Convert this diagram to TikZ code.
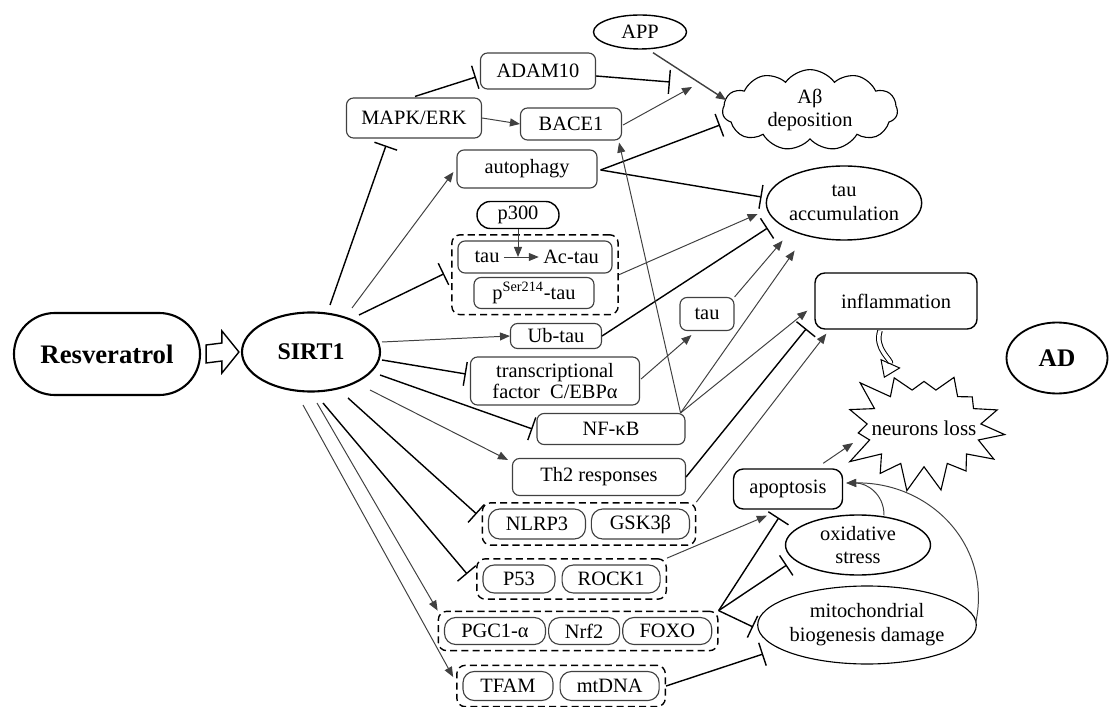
\documentclass[tikz,border=0pt]{standalone}
\usepackage{fontspec}
\setmainfont{Liberation Serif}
\usetikzlibrary{arrows.meta,calc,positioning,fit,shapes.geometric,shapes.symbols}

\begin{document}
\begin{tikzpicture}[x=0.025cm,y=-0.025cm,>={Triangle[length=0.25cm,width=0.2cm]},font=\fontsize{14.5}{17}\selectfont]
\tikzstyle{wd}=[minimum width=#1*0.025cm]
\tikzstyle{ht}=[minimum height=#1*0.025cm]
\tikzstyle{box}=[draw=black!75,line width=0.8pt,rounded corners=5pt,inner sep=1pt,align=center]
\tikzstyle{bbox}=[box,draw=black,line width=1pt]
\tikzstyle{oval}=[ellipse,draw=black,line width=1pt,inner sep=0pt,align=center]
\tikzstyle{grp}=[draw,line width=1pt,dash pattern=on 5pt off 3pt,rounded corners=6pt,inner sep=4pt]
\tikzstyle{act}=[->,draw=black!75,line width=0.7pt]
\tikzstyle{inh}=[-{Bar[width=0.6cm,line width=1pt]},line width=1pt]
\tikzstyle{dbl}=[double=white,double distance=2.5pt,line width=0.7pt,-{Triangle[open,length=0.4cm,width=0.55cm]}]
\useasboundingbox (0,0) rectangle (1109,707);

% left side
\node[bbox,wd=186,ht=82,rounded corners=29pt,line width=1.5pt] (res) at (107,354) {\fontsize{19}{22}\selectfont\bfseries Resveratrol};
\node[oval,wd=138,ht=79,line width=1.5pt] (sirt) at (311,352) {\fontsize{17}{20}\selectfont\bfseries SIRT1};

% upper part
\node[box,wd=135,ht=40] (mapk) at (414,118) {MAPK/ERK};
\node[box,wd=115,ht=36] (adam) at (538,71) {ADAM10};
\node[box,wd=101,ht=32] (bace) at (571,124) {BACE1};
\node[box,wd=140,ht=38] (auto) at (527,169) {autophagy};
\node[oval,wd=93,ht=34] (app) at (640,32) {APP};
\node[cloud,draw,line width=0.8pt,cloud puffs=11,cloud puff arc=110,aspect=2.6,minimum width=4.375cm,minimum height=1.65cm,inner sep=0pt,align=center] (abeta) at (810,110) {Aβ\\deposition};
\node[oval,wd=135,ht=74] (tauacc) at (844,203) {tau\\accumulation};

% tau forms
\node[bbox,wd=82,ht=27,rounded corners=9.5pt] (p300) at (518,215) {p300};
\node[box,wd=154,ht=32] (actau) at (535,257) {};
\node[inner sep=1pt] (tauin) at (487,257) {tau};
\node[inner sep=1pt] (actxt) at (571,257) {Ac-tau};
\node[box,wd=120,ht=31] (ptau) at (534,293) {p\textsuperscript{Ser214}-tau};
\node[grp,fit=(actau)(ptau)] (taugrp) {};
\node[box,wd=91,ht=25] (ubtau) at (556,336) {Ub-tau};
\node[box,wd=169,ht=48,font=\fontsize{14.5}{14.5}\selectfont] (cebp) at (555,381) {transcriptional\\factor~ C/EBPα};
\node[box,wd=54,ht=33] (tausm) at (707,314) {tau};
\node[box,wd=148,ht=31] (nfkb) at (611,429) {NF-κB};
\node[box,wd=173,ht=37] (th2) at (599,477) {Th2 responses};

% grouped targets
\node[box,wd=97,ht=30,rounded corners=8pt] (nlrp) at (537,524) {NLRP3};
\node[box,wd=98,ht=30,rounded corners=8pt,right=0.12cm of nlrp] (gsk) {GSK3β};
\node[grp,fit=(nlrp)(gsk)] (nlrpgrp) {};
\node[box,wd=72,ht=28,rounded corners=8pt] (p53) at (519,579) {P53};
\node[box,wd=98,ht=28,rounded corners=8pt,right=0.15cm of p53] (rock) {ROCK1};
\node[grp,fit=(p53)(rock)] (p53grp) {};
\node[box,wd=101,ht=27,rounded corners=8pt] (pgc) at (495,631) {PGC1-α};
\node[box,wd=71,ht=27,rounded corners=8pt,right=0.05cm of pgc] (nrf) {Nrf2};
\node[box,wd=89,ht=27,rounded corners=8pt,right=0.05cm of nrf] (foxo) {FOXO};
\node[grp,fit=(pgc)(foxo)] (pgcgrp) {};
\node[box,wd=90,ht=29,rounded corners=8pt] (tfam) at (508,686) {TFAM};
\node[box,wd=99,ht=29,rounded corners=8pt,right=0.15cm of tfam] (mtdna) {mtDNA};
\node[grp,fit=(tfam)(mtdna)] (tfamgrp) {};

% right side
\node[bbox,wd=162,ht=56,rounded corners=7pt] (infl) at (896,301) {inflammation};
\node[oval,wd=101,ht=71,line width=1.3pt] (ad) at (1057,358) {\fontsize{18}{20}\selectfont\bfseries AD};
\node[starburst,draw,line width=0.8pt,starburst points=15,starburst point height=0.75cm,random starburst=23,inner xsep=-0.3cm,inner ysep=0.5cm,font=\fontsize{15}{17}\selectfont] (neuron) at (924,428) {neurons loss};
\node[bbox,wd=109,ht=40,rounded corners=7pt] (apop) at (788,489) {apoptosis};
\node[oval,wd=145,ht=60] (oxid) at (858,545) {oxidative\\stress};
\node[oval,wd=192,ht=78,line width=0.8pt] (mito) at (867,625) {mitochondrial\\biogenesis damage};

% from SIRT1
\draw[line width=1pt,line join=miter] ($(res.east)+(5,-9)$) -- ($(sirt.west)+(-19,-9)$) -- ($(sirt.west)+(-19,-21)$) -- ($(sirt.west)+(-2,0)$) -- ($(sirt.west)+(-19,21)$) -- ($(sirt.west)+(-19,9)$) -- ($(res.east)+(5,9)$) -- cycle;
\draw[inh] ($(sirt)+(19,-47)$) -- ($(mapk.south)+(-28,7)$);
\draw[act] ($(sirt)+(41,-44)$) -- ($(auto.west)+(-3,3)$);
\draw[inh] ($(sirt)+(48,-37)$) -- ($(taugrp.west)+(-7,-1)$);
\draw[act] ($(sirt)+(71,-10)$) -- (ubtau.west);
\draw[inh] ($(sirt)+(71,8)$) -- ($(cebp.west)+(-4,-7)$);
\draw[inh] ($(sirt)+(69,23)$) -- ($(nfkb.west)+(-4,0)$);
\draw[act] ($(sirt)+(59,38)$) -- ($(th2.north west)+(-4,2)$);
\draw[inh] ($(sirt)+(37,46)$) -- ($(nlrpgrp.west)+(-5,-10)$);
\draw[inh] ($(sirt)+(12,51)$) -- ($(p53grp.west)+(-9,-5)$);
\draw[act] ($(sirt)+(6,51)$) -- (pgcgrp.north west);
\draw[act] ($(sirt)+(-8,53)$) -- ($(tfamgrp.west)+(-3,-9)$);

% amyloid branch
\draw[inh] ($(mapk.north)+(1,-1)$) -- ($(adam.west)+(-4,6)$);
\draw[act] (mapk.east) -- (bace.west);
\draw[inh] ($(adam.east)+(0,5)$) -- ($(abeta.west)+(-52,-28)$);
\draw[act] ($(bace.east)+(1,1)$) -- ($(abeta.west)+(-30,-23)$);
\draw[act,line width=1pt] ($(app.south)+(13,3)$) -- ($(abeta.west)+(4,-10)$);
\draw[inh] ($(auto.east)+(3,1)$) -- ($(abeta.west)+(-2,15)$);

% tau branch
\draw[act] (p300) -- (p300 |- tauin);
\draw[act,shorten <=2pt,shorten >=2pt] (tauin) -- (actxt);
\draw[inh] ($(auto.east)+(3,1)$) -- ($(tauacc.west)+(-4,-6)$);
\draw[act] (taugrp.east) -- ($(tauacc.west)+(-8,11)$);
\draw[inh] (ubtau.east) -- ($(tauacc.west)+(2,25)$);
\draw[act] (tausm.north east) -- ($(tauacc.south west)+(-6,11)$);
\draw[act] ($(cebp.east)+(1,-2)$) -- ($(tausm.south west)+(12,4)$);
\draw[act] ($(nfkb.north east)+(-5,0)$) -- ($(tauacc.south west)+(6,21)$);
\draw[act] ($(nfkb.north east)+(-5,0)$) -- ($(bace.south east)+(-3,2)$);

% inflammation and cell death
\draw[act] ($(nfkb.north east)+(-5,0)$) -- ($(infl.south west)+(-7,-19)$);
\draw[inh] (th2.east) -- ($(infl.south west)+(-8,-1)$);
\draw[act] (nlrpgrp.north east) -- ($(infl.south west)+(12,4)$);
\draw[act] (p53grp.north east) -- ($(apop.south west)+(34,6)$);
\draw[inh] (pgcgrp.north east) -- ($(apop.south west)+(46,8)$);
\draw[inh] (pgcgrp.north east) -- ($(oxid.west)+(2,20)$);
\draw[inh] (pgcgrp.north east) -- ($(mito.west)+(-4,2)$);
\draw[inh] (tfamgrp.east) -- ($(mito.west)+(6,29)$);
\draw[act] ($(oxid.north)+(26,1)$) .. controls ($(oxid.north)+(26,-21)$) and ($(apop.east)+(23,-6)$) .. ($(apop.east)+(3,-6)$);
\draw[act] ($(mito.east)+(-1,-3)$) .. controls ($(mito.east)+(15,-80)$) and ($(apop.east)+(87,-7)$) .. ($(apop.east)+(3,-6)$);
\draw[act] ($(apop.north east)+(-20,-5)$) -- ($(neuron.center)+(-71,15)$);
\draw[dbl] ($(infl.south)+(-16,1)$) .. controls ($(infl.south)+(-22,19)$) and ($(neuron.center)+(-32,-68)$) .. ($(neuron.center)+(-40,-50)$);
\end{tikzpicture}
\end{document}
